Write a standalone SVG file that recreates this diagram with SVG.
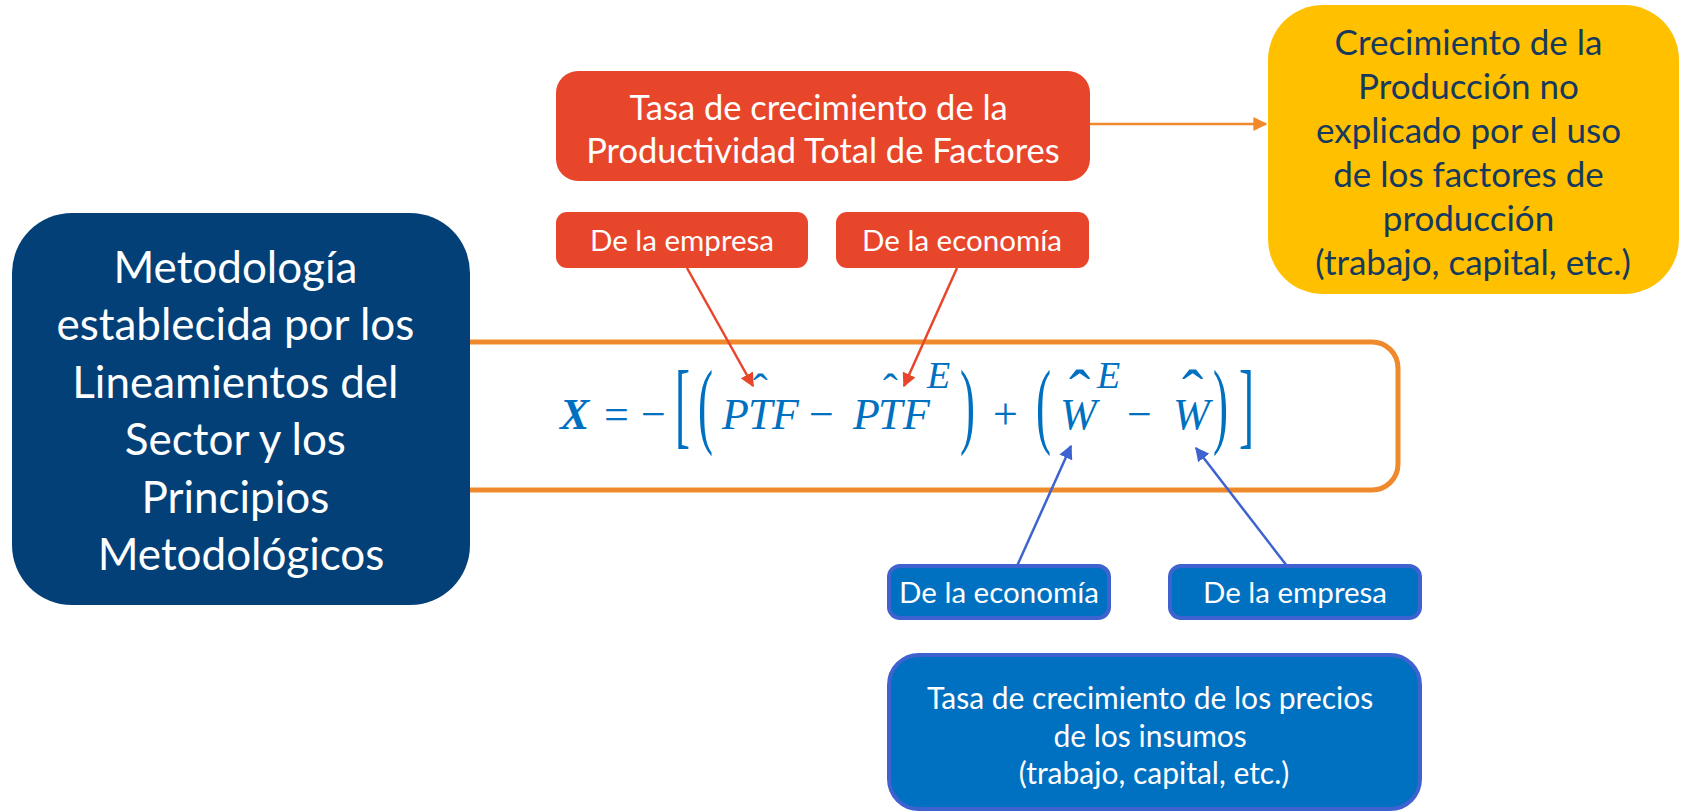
<svg xmlns="http://www.w3.org/2000/svg" width="1682" height="812" viewBox="0 0 1682 812">
<style>
.t{font-family:Lato,"Liberation Sans",sans-serif;text-anchor:middle}
.w{fill:#ffffff}
.m{font-family:"Liberation Serif",serif;font-style:italic;fill:#0070C0}
.n{font-family:"Liberation Serif",serif;fill:#0070C0}
.up{font-style:normal}
.red{fill:#E8462B}
.blu{fill:#0070C0;stroke:#3E62CF;stroke-width:4}
</style>
<defs>
<marker id="ar" viewBox="0 0 10 10" refX="9" refY="5" markerWidth="14" markerHeight="14" markerUnits="userSpaceOnUse" orient="auto"><path d="M0,0 L10,5 L0,10 z" fill="#E8462B"/></marker>
<marker id="ao" viewBox="0 0 10 10" refX="9" refY="5" markerWidth="14" markerHeight="14" markerUnits="userSpaceOnUse" orient="auto"><path d="M0,0 L10,5 L0,10 z" fill="#F0892B"/></marker>
<marker id="ab" viewBox="0 0 10 10" refX="9" refY="5" markerWidth="14" markerHeight="14" markerUnits="userSpaceOnUse" orient="auto"><path d="M0,0 L10,5 L0,10 z" fill="#3E62CF"/></marker>
</defs>

<g id="formula-box">
<rect x="400" y="342" width="998" height="148" rx="26" fill="#ffffff" stroke="#F0892B" stroke-width="5"/>
</g>

<g id="metodologia">
<rect x="12" y="213" width="458" height="392" rx="60" fill="#034078"/>
<text class="t w" font-size="44">
<tspan x="241" y="283">Metodología</tspan>
<tspan x="241" y="340">establecida por los</tspan>
<tspan x="241" y="398">Lineamientos del</tspan>
<tspan x="241" y="455">Sector y los</tspan>
<tspan x="241" y="513">Principios</tspan>
<tspan x="241" y="570">Metodológicos</tspan>
</text>
</g>

<g id="tasa-ptf">
<rect class="red" x="556" y="71" width="534" height="110" rx="22"/>
<text class="t w" font-size="34.5">
<tspan x="823" y="120">Tasa de crecimiento de la</tspan>
<tspan x="823" y="163">Productividad Total de Factores</tspan>
</text>
</g>

<g id="crecimiento-produccion">
<rect x="1268" y="5" width="411" height="289" rx="55" fill="#FFC000"/>
<text class="t" font-size="35" fill="#16395E">
<tspan x="1473" y="55">Crecimiento de la</tspan>
<tspan x="1473" y="99">Producción no</tspan>
<tspan x="1473" y="143">explicado por el uso</tspan>
<tspan x="1473" y="187">de los factores de</tspan>
<tspan x="1473" y="231">producción</tspan>
<tspan x="1473" y="275">(trabajo, capital, etc.)</tspan>
</text>
</g>

<g id="ptf-empresa">
<rect class="red" x="556" y="212" width="252" height="56" rx="11"/>
<text class="t w" font-size="29.5" x="682" y="251">De la empresa</text>
</g>

<g id="ptf-economia">
<rect class="red" x="836" y="212" width="253" height="56" rx="11"/>
<text class="t w" font-size="29.5" x="962" y="251">De la economía</text>
</g>

<g id="w-economia">
<rect class="blu" x="889" y="566" width="220" height="52" rx="11"/>
<text class="t w" font-size="29.5" x="999" y="603">De la economía</text>
</g>

<g id="w-empresa">
<rect class="blu" x="1170" y="566" width="250" height="52" rx="11"/>
<text class="t w" font-size="29.5" x="1295" y="603">De la empresa</text>
</g>

<g id="tasa-precios">
<rect class="blu" x="889" y="655" width="531" height="154" rx="30"/>
<text class="t w" font-size="30">
<tspan x="1154" y="709">Tasa de crecimiento de los precios</tspan>
<tspan x="1154" y="747">de los insumos</tspan>
<tspan x="1154" y="784">(trabajo, capital, etc.)</tspan>
</text>
</g>

<g id="formula">
<text class="m" font-size="44"><tspan x="560" y="429" font-weight="bold">X</tspan><tspan class="up" x="604" y="429">=</tspan><tspan class="up" x="641" y="429">−</tspan><tspan x="722" y="429">P</tspan><tspan x="748" y="429">T</tspan><tspan class="up" x="753" y="404">ˆ</tspan><tspan x="772" y="429">F</tspan><tspan class="up" x="809" y="429">−</tspan><tspan x="853" y="429">P</tspan><tspan x="878" y="429">T</tspan><tspan class="up" x="883" y="404">ˆ</tspan><tspan x="903" y="429">F</tspan><tspan x="927" y="388" font-size="38">E</tspan><tspan class="up" x="993" y="429">+</tspan><tspan x="1060" y="429">W</tspan><tspan class="up" x="1069" y="414" font-size="64">ˆ</tspan><tspan x="1097" y="388" font-size="38">E</tspan><tspan class="up" x="1127" y="429">−</tspan><tspan x="1173" y="429">W</tspan><tspan class="up" x="1182" y="414" font-size="64">ˆ</tspan></text>
<text class="n" font-size="60" transform="translate(675,436) scale(0.75,1.6)">[</text>
<text class="n" font-size="60" transform="translate(698,436) scale(0.75,1.6)">(</text>
<text class="n" font-size="60" transform="translate(960,436) scale(0.75,1.6)">)</text>
<text class="n" font-size="60" transform="translate(1036,436) scale(0.75,1.6)">(</text>
<text class="n" font-size="60" transform="translate(1213,436) scale(0.75,1.6)">)</text>
<text class="n" font-size="60" transform="translate(1239,436) scale(0.75,1.6)">]</text>
</g>

<g id="connectors" fill="none" stroke-width="2.5">
<line x1="1090" y1="124" x2="1266" y2="124" stroke="#F0892B" marker-end="url(#ao)"/>
<line x1="687" y1="268" x2="753" y2="386" stroke="#E8462B" marker-end="url(#ar)"/>
<line x1="957" y1="268" x2="904" y2="386" stroke="#E8462B" marker-end="url(#ar)"/>
<line x1="1017" y1="566" x2="1071" y2="446" stroke="#3E62CF" marker-end="url(#ab)"/>
<line x1="1287" y1="566" x2="1196" y2="448" stroke="#3E62CF" marker-end="url(#ab)"/>
</g>
</svg>
